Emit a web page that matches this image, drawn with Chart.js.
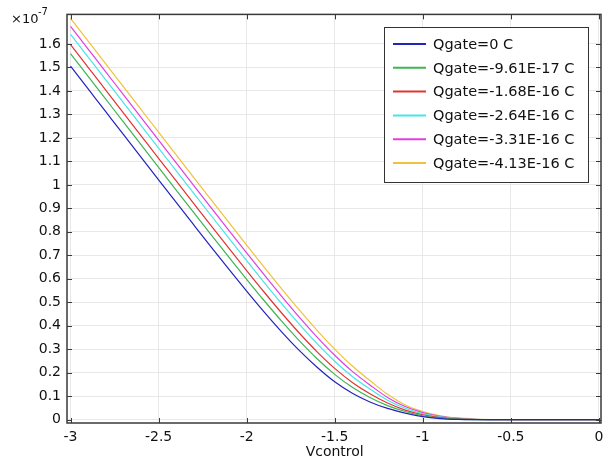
<!DOCTYPE html>
<html>
<head>
<meta charset="utf-8">
<script src="https://cdn.jsdelivr.net/npm/chart.js@4/dist/chart.umd.min.js"></script>
<style>
  html, body { margin: 0; padding: 0; background: #fff; }
  #wrap { width: 611px; height: 457px; }
</style>
</head>
<body>
<div id="wrap"><canvas id="chart1"></canvas></div>
<script>
// Vcontrol values (V) and the six curves (units of 1e-7)
const vcontrol = [-3, -2.9, -2.8, -2.7, -2.6, -2.5, -2.4, -2.3, -2.2, -2.1, -2, -1.9, -1.8, -1.7, -1.6, -1.5,
  -1.4, -1.3, -1.2, -1.1, -1, -0.9, -0.8, -0.7, -0.6, -0.5, -0.4, -0.3, -0.2, -0.1, 0];

const q0 = [1.5055, 1.4086, 1.3117, 1.2148, 1.1180, 1.0214, 0.9251, 0.8292, 0.7339, 0.6399, 0.5476, 0.4581,
  0.3730, 0.2939, 0.2232, 0.1613, 0.1126, 0.0757, 0.0480, 0.028, 0.013, 0.005, 0.0015, 0.0003, 0, 0, 0, 0, 0, 0, 0];
const q961 = [1.5588, 1.4619, 1.3650, 1.2681, 1.1713, 1.0746, 0.9781, 0.8819, 0.7862, 0.6914, 0.5979, 0.5066,
  0.4186, 0.3356, 0.2597, 0.1932, 0.1379, 0.0946, 0.0600, 0.035, 0.017, 0.007, 0.0025, 0.0006, 0.0001, 0, 0, 0, 0, 0, 0];
const q168 = [1.5976, 1.5007, 1.4037, 1.3068, 1.2100, 1.1132, 1.0166, 0.9203, 0.8244, 0.7292, 0.6351, 0.5428,
  0.4533, 0.3681, 0.2891, 0.2186, 0.1586, 0.1105, 0.0710, 0.041, 0.021, 0.009, 0.0035, 0.001, 0.0002, 0, 0, 0, 0, 0, 0];
const q264 = [1.6413, 1.5443, 1.4474, 1.3504, 1.2536, 1.1567, 1.0601, 0.9636, 0.8675, 0.7719, 0.6772, 0.5840,
  0.4931, 0.4058, 0.3237, 0.2491, 0.1842, 0.1307, 0.0830, 0.049, 0.026, 0.012, 0.005, 0.0015, 0.0004, 0, 0, 0, 0, 0, 0];
const q331 = [1.6752, 1.5782, 1.4813, 1.3843, 1.2874, 1.1906, 1.0939, 0.9973, 0.9011, 0.8053, 0.7102, 0.6165,
  0.5246, 0.4359, 0.3517, 0.2743, 0.2057, 0.1480, 0.0950, 0.056, 0.030, 0.014, 0.006, 0.002, 0.0005, 0.0001, 0, 0, 0, 0, 0];
const q413 = [1.7092, 1.6122, 1.5152, 1.4183, 1.3214, 1.2245, 1.1277, 1.0311, 0.9347, 0.8388, 0.7434, 0.6491,
  0.5565, 0.4665, 0.3806, 0.3005, 0.2285, 0.1669, 0.1080, 0.063, 0.035, 0.017, 0.0075, 0.0028, 0.0008, 0.0001, 0, 0, 0, 0, 0];

const seriesLabels = ["Qgate=0 C", "Qgate=-9.61E-17 C", "Qgate=-1.68E-16 C",
  "Qgate=-2.64E-16 C", "Qgate=-3.31E-16 C", "Qgate=-4.13E-16 C"];
const seriesColors = ["#2323c0", "#3fb452", "#e23434", "#45e6e6", "#e03ee0", "#f0c23c"];

const xTicks = [-3, -2.5, -2, -1.5, -1, -0.5, 0];
const xTickLabels = ["-3", "-2.5", "-2", "-1.5", "-1", "-0.5", "0"];
const yTicks = [0, 0.1, 0.2, 0.3, 0.4, 0.5, 0.6, 0.7, 0.8, 0.9, 1, 1.1, 1.2, 1.3, 1.4, 1.5, 1.6];
const yTickLabels = ["0", "0.1", "0.2", "0.3", "0.4", "0.5", "0.6", "0.7", "0.8", "0.9", "1",
  "1.1", "1.2", "1.3", "1.4", "1.5", "1.6"];

const FONT = "'DejaVu Sans', sans-serif";

function pts(arr) {
  return vcontrol.map((v, i) => ({ x: v, y: arr[i] }));
}

const allSeries = [q0, q961, q168, q264, q331, q413];

// frame, inward ticks, legend, axis texts
const decorations = {
  id: "decorations",
  afterDatasetsDraw(chart) {
    const { ctx, chartArea: a, scales } = chart;
    ctx.save();
    ctx.strokeStyle = "#3a3a3a";
    ctx.lineWidth = 1.5;
    ctx.strokeRect(a.left, a.top, a.right - a.left, a.bottom - a.top);
    ctx.lineWidth = 1;
    ctx.beginPath();
    xTicks.forEach((t) => {
      const px = Math.round(scales.x.getPixelForValue(t)) + 0.5;
      ctx.moveTo(px, a.bottom); ctx.lineTo(px, a.bottom - 5);
      ctx.moveTo(px, a.top); ctx.lineTo(px, a.top + 5);
    });
    yTicks.forEach((t) => {
      const py = Math.round(scales.y.getPixelForValue(t)) + 0.5;
      ctx.moveTo(a.left, py); ctx.lineTo(a.left + 5, py);
      ctx.moveTo(a.right, py); ctx.lineTo(a.right - 5, py);
    });
    ctx.stroke();

    // legend box
    const lx = 384, ly = 27, lw = 204, lh = 155;
    ctx.fillStyle = "#fff";
    ctx.fillRect(lx, ly, lw, lh);
    ctx.strokeStyle = "#333";
    ctx.lineWidth = 1;
    ctx.strokeRect(lx + 0.5, ly + 0.5, lw, lh);
    ctx.font = "14.5px " + FONT;
    ctx.textBaseline = "middle";
    chart.data.datasets.forEach((ds, i) => {
      const y = 44 + i * 23.8;
      ctx.strokeStyle = ds.borderColor;
      ctx.lineWidth = 2;
      ctx.beginPath();
      ctx.moveTo(393, y); ctx.lineTo(426, y);
      ctx.stroke();
      ctx.fillStyle = "#111";
      ctx.fillText(ds.label, 433, y + 1);
    });

    // axis texts
    ctx.fillStyle = "#111";
    ctx.font = "14px " + FONT;
    ctx.textAlign = "center";
    ctx.textBaseline = "alphabetic";
    ctx.fillText("Vcontrol", (scales.x.getPixelForValue(-1.5)), 456);
    ctx.textAlign = "left";
    ctx.font = "13px " + FONT;
    ctx.fillText("\u00d710", 11, 23);
    ctx.font = "10px " + FONT;
    ctx.fillText("-7", 38, 15);
    ctx.restore();
  }
};

const ctx1 = document.getElementById("chart1").getContext("2d");
const chart1 = new Chart(ctx1, {
  type: "line",
  data: {
    datasets: allSeries.map((arr, i) => ({
      label: seriesLabels[i],
      data: pts(arr),
      borderColor: seriesColors[i],
      backgroundColor: seriesColors[i],
      borderWidth: 1.2,
      pointRadius: 0,
      cubicInterpolationMode: "monotone",
      fill: false,
    })),
  },
  options: {
    responsive: true,
    maintainAspectRatio: false,
    animation: false,
    layout: { padding: { top: 12, right: 10, left: 0, bottom: 0 } },
    plugins: { legend: { display: false }, tooltip: { enabled: false } },
    scales: {
      x: {
        type: "linear",
        min: -3.02,
        max: 0.012,
        afterBuildTicks: (s) => { s.ticks = xTicks.map((v) => ({ value: v })); },
        afterFit: (s) => { s.height = 34; },
        ticks: {
          callback: (v) => xTickLabels[xTicks.indexOf(v)],
          font: { family: FONT, size: 14 },
          color: "#111",
          padding: 6,
          maxRotation: 0,
        },
        grid: { color: "#e8e8e8", drawTicks: false },
        border: { display: false },
      },
      y: {
        type: "linear",
        min: -0.014,
        max: 1.726,
        afterBuildTicks: (s) => { s.ticks = yTicks.map((v) => ({ value: v })); },
        afterFit: (s) => { s.width = 67; },
        ticks: {
          callback: (v) => yTickLabels[yTicks.indexOf(v)],
          font: { family: FONT, size: 14 },
          color: "#111",
          padding: 6,
        },
        grid: { color: "#e8e8e8", drawTicks: false },
        border: { display: false },
      },
    },
  },
  plugins: [decorations],
});
</script>
</body>
</html>
